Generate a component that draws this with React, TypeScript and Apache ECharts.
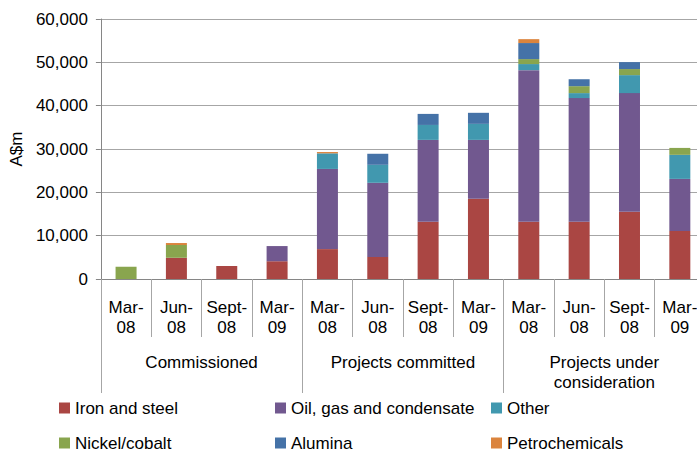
import React, { useEffect, useRef } from "react";
import * as echarts from "echarts";

const categories = [
  "Mar-\n08", "Jun-\n08", "Sept-\n08", "Mar-\n09",
  "Mar-\n08", "Jun-\n08", "Sept-\n08", "Mar-\n09",
  "Mar-\n08", "Jun-\n08", "Sept-\n08", "Mar-\n09",
];
const groups = ["Commissioned", "Projects committed", "Projects under\nconsideration"];

const ironSteel = [0, 4900, 3000, 4100, 6900, 5100, 13200, 18500, 13200, 13200, 15500, 11100];
const oilGas = [0, 0, 0, 3500, 18500, 17100, 18900, 13600, 35000, 28550, 27400, 12000];
const other = [0, 0, 0, 0, 3600, 4150, 3450, 3700, 1400, 1150, 4150, 5550];
const nickel = [2800, 2950, 0, 0, 0, 0, 0, 0, 1150, 1600, 1400, 1600];
const alumina = [0, 0, 0, 0, 0, 2550, 2550, 2550, 3700, 1600, 1600, 0];
const petro = [0, 450, 0, 0, 300, 0, 0, 0, 900, 0, 0, 0];

const seriesNames = [
  "Iron and steel",
  "Oil, gas and condensate",
  "Other",
  "Nickel/cobalt",
  "Alumina",
  "Petrochemicals",
];
const seriesData = [ironSteel, oilGas, other, nickel, alumina, petro];
const colors = ["#AA4643", "#71588F", "#4198AF", "#89A54E", "#4572A7", "#DB843D"];

const FONT = "'Liberation Sans', Arial, sans-serif";
const FS = 17;

export default function App() {
  const ref = useRef<HTMLDivElement>(null);
  useEffect(() => {
    if (!ref.current) return;
    const chart = echarts.init(ref.current, null, { renderer: "svg" });
    const legendPos = [
      [59, 399], [275, 399], [491, 399],
      [59, 434], [275, 434], [491, 434],
    ];
    chart.setOption({
      animation: false,
      textStyle: { fontFamily: FONT, color: "#000" },
      grid: { left: 99, right: 7, top: 19, bottom: 173 },
      legend: seriesNames.map((n, i) => ({
        data: [n],
        left: legendPos[i][0],
        top: legendPos[i][1],
        padding: 0,
        icon: "rect",
        itemWidth: 11,
        itemHeight: 11,
        itemGap: 0,
        textStyle: { fontSize: FS, color: "#000", fontFamily: FONT, lineHeight: 18 },
      })),
      xAxis: [
        {
          type: "category",
          data: categories,
          axisLine: { show: true, lineStyle: { color: "#868686" } },
          axisTick: { show: true, interval: 0, length: 58, lineStyle: { color: "#a6a6a6" } },
          axisLabel: {
            interval: 0,
            margin: 18,
            fontSize: FS,
            lineHeight: 20,
            color: "#000",
            fontFamily: FONT,
          },
        },
        {
          type: "category",
          data: groups,
          position: "bottom",
          axisLine: { show: true, lineStyle: { color: "#868686" } },
          axisTick: { show: true, interval: 0, length: 114, lineStyle: { color: "#a6a6a6" } },
          axisLabel: {
            interval: 0,
            margin: 73,
            fontSize: FS,
            lineHeight: 20,
            color: "#000",
            fontFamily: FONT,
          },
        },
      ],
      yAxis: {
        type: "value",
        min: 0,
        max: 60000,
        interval: 10000,
        name: "A$m",
        nameLocation: "middle",
        nameGap: 74,
        nameTextStyle: { fontSize: FS, color: "#000", fontFamily: FONT },
        axisLine: { show: true, lineStyle: { color: "#868686" } },
        axisTick: { show: true, length: 5, lineStyle: { color: "#868686" } },
        axisLabel: {
          margin: 13,
          fontSize: FS,
          color: "#000",
          fontFamily: FONT,
          formatter: (v: number) => v.toLocaleString("en-US"),
        },
        splitLine: { lineStyle: { color: "#a6a6a6" } },
      },
      series: seriesNames.map((n, i) => ({
        name: n,
        type: "bar",
        stack: "total",
        barWidth: 21,
        xAxisIndex: 0,
        itemStyle: { color: colors[i] },
        data: seriesData[i],
      })),
    });
    return () => chart.dispose();
  }, []);
  return (
    <div
      style={{
        position: "fixed",
        left: 0,
        top: 0,
        width: 697,
        height: 452,
        overflow: "hidden",
        background: "#fff",
      }}
    >
      <div ref={ref} style={{ width: 712, height: 452 }} />
    </div>
  );
}
